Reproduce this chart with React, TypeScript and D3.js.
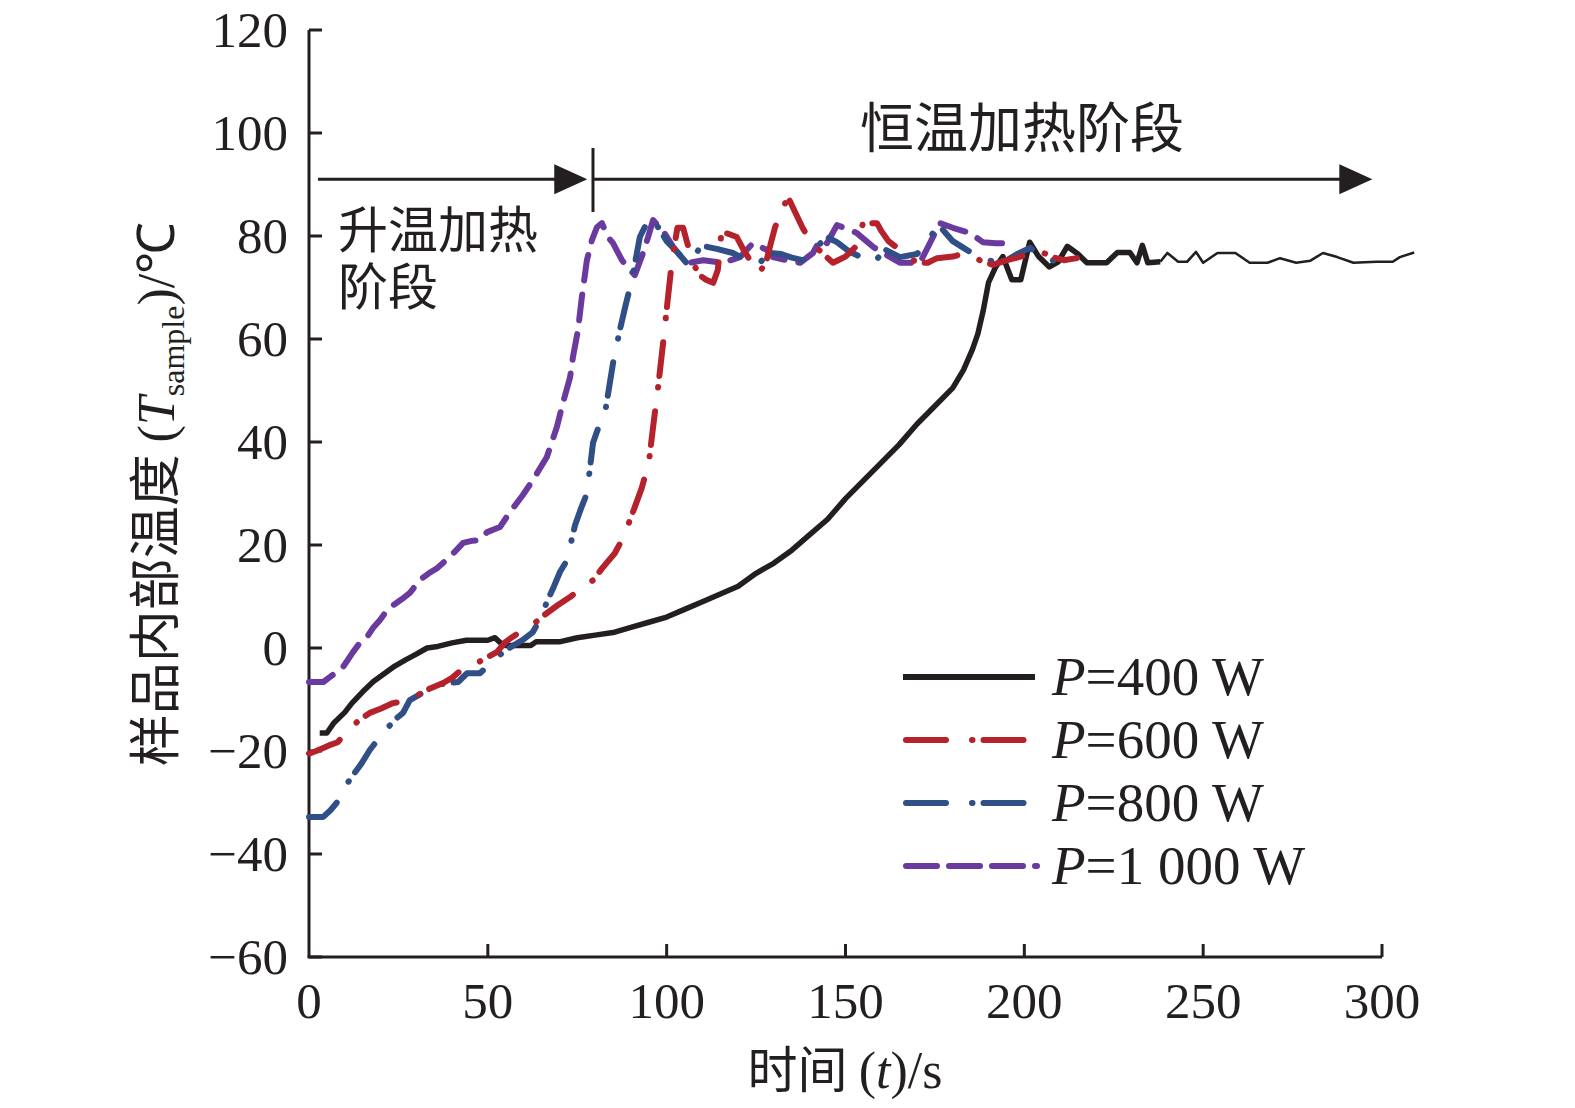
import React, { useEffect } from "react";
import * as d3 from "d3";

// ---- data ----
const t400 = [3, 5, 7, 10, 12, 15, 18, 21, 24, 27, 30, 33, 36, 40, 44, 50, 52, 53.5, 55, 58, 62, 63.5, 70, 75, 80, 85, 90, 95, 100, 105, 110, 115, 120, 125, 130, 135, 140, 145, 150, 155, 160, 165, 170, 175, 180, 183, 185.5, 187, 188.5, 190, 192, 194, 196.5, 199, 201.5, 204, 207, 209.5, 212, 215, 217.5, 220, 223, 226, 229.5, 231.5, 233, 234.5, 238];
const T400 = [-16.5, -16.5, -14.5, -12.5, -10.7, -8.5, -6.5, -5, -3.5, -2.3, -1.2, 0, 0.3, 1, 1.5, 1.5, 2, 1, 0.5, 0.5, 0.5, 1.2, 1.2, 2, 2.5, 3, 4, 5, 6, 7.5, 9, 10.5, 12, 14.5, 16.5, 19, 22, 25, 29, 32.5, 36, 39.5, 43.5, 47, 50.5, 54, 58, 61, 65.5, 71, 74, 76, 71.5, 71.5, 78.8, 76, 74, 75, 78, 76.5, 74.8, 74.8, 74.8, 76.8, 76.8, 74.8, 78.2, 74.8, 75];
const t400b = [238, 240, 243, 245.5, 248, 250, 254, 259, 263, 268, 271.5, 276, 280, 283.5, 287.5, 292, 298.5, 303, 305, 309];
const T400b = [75, 76.7, 75, 75, 76.9, 74.8, 76.7, 76.7, 74.8, 74.8, 75.7, 74.8, 75.2, 76.7, 75.9, 74.8, 75, 75, 75.9, 76.8];

const t600 = [0, 2, 4, 6, 8, 11, 14, 17, 20, 23.5, 26.5, 30, 34, 37.5, 40, 42, 45, 48, 52.5, 55, 57, 59, 62.5, 66, 69.5, 73, 76, 79.5, 82, 85.5, 87.5, 89, 91, 93, 95, 96.2, 97.5, 99, 100.2, 101.5, 103, 104.6, 106, 107.4, 109, 111, 113, 114.3, 115.3, 117, 119.6, 121.5, 124, 126, 128, 129.2, 130.3, 132, 133.9, 136, 138, 140, 143, 146.5, 150, 153, 154.9, 156.5, 158.8, 160, 162, 165.2, 168, 170.8, 173, 175.6, 180, 183.9, 187.5, 191.2, 195.1, 199, 203.5, 208, 211, 214.7];
const T600 = [-20.5, -20, -19.4, -18.8, -18.3, -16, -14, -12.6, -11.8, -10.7, -10.4, -9.3, -7.8, -6.8, -5.8, -4.6, -3.7, -2.5, -0.8, 1.2, 2.2, 3.1, 4.5, 6.5, 8.3, 9.9, 11.5, 13.2, 15.5, 18.4, 21, 23.5, 27.2, 31, 35.9, 42.9, 50, 59.2, 67, 75.3, 81.6, 81.6, 78, 74.8, 72.5, 71.5, 70.9, 73.4, 80.6, 80.5, 79.8, 77.3, 74.5, 72.8, 75.5, 78.8, 81.7, 84.5, 87.6, 84.5, 81.6, 79.2, 77, 74.8, 76, 78, 82.5, 82.5, 82.5, 81, 79, 77.3, 75.5, 74.8, 74.8, 75.7, 76, 76.7, 75.3, 74.4, 75.3, 76, 77.3, 75.9, 75.3, 75.7];

const t800 = [0, 2, 4, 6, 7.7, 10, 12.5, 14.7, 17, 19.8, 22, 24, 26.3, 28.2, 31, 33.8, 37, 41.7, 44.2, 47.8, 50, 52.6, 56, 59.8, 62.6, 64.5, 66.5, 68.5, 70.2, 72.1, 74.4, 76, 77.7, 79.4, 81, 82.8, 85, 86.9, 88.5, 90.3, 92.5, 95.3, 97.6, 100, 103.2, 106.5, 109.3, 111.3, 114, 118.5, 122.4, 126, 128.9, 132, 135, 138, 142, 144.8, 147.6, 151, 154.9, 157.7, 161.3, 165.2, 170, 174.5, 177.2, 180, 183.9, 187.5, 192.3, 195.1, 198, 201.6, 205.2, 210];
const T800 = [-32.8, -32.8, -32.8, -31.5, -30.1, -27, -24.5, -22.4, -19.8, -17.3, -15.5, -13.9, -12.6, -10.1, -9, -7.8, -7, -6.6, -4.9, -4.9, -3.5, -1.7, 0, 1.6, 3.1, 5.5, 8.9, 12, 14.8, 17, 23.9, 27, 30, 39.8, 43, 45.8, 55.3, 61.7, 66.5, 71.5, 79.8, 83.7, 81.7, 79, 76.7, 74, 77.9, 77.9, 77.5, 76.7, 75.3, 74.8, 76.7, 76.5, 75.8, 75.3, 77.9, 79.8, 78.8, 77, 75.7, 74.8, 77.3, 75.9, 76.5, 80.6, 81.2, 79, 77.3, 75.9, 74.8, 75.3, 76.5, 77.7, 75.9, 74.8];

const t1000 = [0, 2, 4, 5.9, 7.5, 9.5, 12.3, 14, 16.2, 18, 19.8, 21.5, 23.5, 26, 28.2, 31, 33.5, 35.8, 39.4, 43.1, 45.5, 47.8, 49.8, 53.4, 56.2, 59.8, 62.6, 66.5, 69.3, 71, 73, 73.8, 75.2, 76.3, 77.7, 79.1, 80.5, 81.9, 83.6, 85, 87.5, 89.7, 91.1, 93.4, 94.8, 96.2, 99, 101.8, 104, 106.5, 110.2, 115.7, 120.5, 124.1, 128, 129.7, 133.6, 137.3, 140.9, 142.8, 144.8, 147.6, 151.2, 153.1, 157.7, 160.5, 165.2, 170.8, 173.6, 176.4, 180, 184.8, 188.4, 192, 196];
const T1000 = [-6.6, -6.6, -6.6, -5.6, -4.8, -3.7, -0.8, 0.8, 2.1, 4, 5.4, 7, 8.3, 9.5, 10.7, 13.2, 14.5, 15.5, 17.7, 20.4, 20.8, 21, 22.5, 23.5, 26.4, 29.7, 32.6, 37.1, 42.9, 47.6, 52.6, 56.5, 61.7, 68.2, 75.3, 79.2, 81.7, 82.5, 79.8, 78.6, 75.3, 73.4, 72.4, 76.7, 79.8, 83.1, 81, 77.9, 76, 74.8, 75.3, 74.8, 75.9, 78.6, 77.3, 75.9, 75.3, 74.8, 76.7, 79.2, 78.6, 82.1, 81.2, 80.6, 77.9, 76.7, 74.8, 74.8, 78.6, 82.5, 81.6, 80.6, 78.8, 78.6, 78.6];

const xTicks = [50, 100, 150, 200, 250, 300];
const xTickLabels = ["0", "50", "100", "150", "200", "250", "300"];
const yTicks = [-60, -40, -20, 0, 20, 40, 60, 80, 100, 120];
const legendNames = ["400 W", "600 W", "800 W", "1 000 W"];

const colors = ["#231f20", "#b5222b", "#2f4f86", "#6a3a9e"];
const dashes = ["none", "34 24 0.5 11", "34 24 0.5 11", "26 14"];

const serif = "'Liberation Serif', 'Times New Roman', serif";
const cjk = "'Noto Sans CJK SC', sans-serif";

export default function App() {
  useEffect(() => {
    document.body.style.margin = "0";
  }, []);

  const W = 1575, H = 1108;
  const x = d3.scaleLinear().domain([0, 300]).range([309, 1382]);
  const y = d3.scaleLinear().domain([-60, 120]).range([957, 30]);
  const zip = (a: number[], b: number[]) => a.map((v, i) => [v, b[i]] as [number, number]);
  const line = d3.line<[number, number]>().x(d => x(d[0])).y(d => y(d[1]));

  const series = [
    { d: zip(t400, T400), c: colors[0], dash: dashes[0], w: 5.5 },
    { d: zip(t400b, T400b), c: colors[0], dash: dashes[0], w: 2.6 },
    { d: zip(t1000, T1000), c: colors[3], dash: dashes[3], w: 6 },
    { d: zip(t800, T800), c: colors[2], dash: dashes[2], w: 6 },
    { d: zip(t600, T600), c: colors[1], dash: dashes[1], w: 6 },
  ];

  const arrowY = y(91);
  const a1s = x(2.5), a1e = x(77.8), div = x(79.4), a2e = x(297.3);
  const head = (tip: number) => `${tip},${arrowY} ${tip - 33},${arrowY - 15} ${tip - 33},${arrowY + 15}`;

  const legY = [677, 740, 803, 866];

  return (
    <svg width={W} height={H} style={{ display: "block", background: "#fff" }}>
      {/* axes */}
      <line x1={x(0)} x2={x(0)} y1={y(120)} y2={y(-60)} stroke="#231f20" strokeWidth={3} />
      <line x1={x(0) - 1.5} x2={x(300)} y1={y(-60)} y2={y(-60)} stroke="#231f20" strokeWidth={3} />
      {yTicks.map(v => (
        <g key={"y" + v}>
          <line x1={x(0)} x2={x(0) + 13} y1={y(v)} y2={y(v)} stroke="#231f20" strokeWidth={3} />
          <text x={288} y={y(v) + 17} textAnchor="end" fontFamily={serif} fontSize={51} fill="#231f20">
            {v < 0 ? "\u2212" + Math.abs(v) : String(v)}
          </text>
        </g>
      ))}
      {xTicks.map(v => (
        <line key={"x" + v} x1={x(v)} x2={x(v)} y1={y(-60)} y2={y(-60) - 13} stroke="#231f20" strokeWidth={3} />
      ))}
      {[0, ...xTicks].map((v, i) => (
        <text key={"xl" + v} x={x(v)} y={1018} textAnchor="middle" fontFamily={serif} fontSize={51} fill="#231f20">
          {xTickLabels[i]}
        </text>
      ))}

      {/* axis titles */}
      <text x={845} y={1088} textAnchor="middle" fontSize={52} fill="#231f20">
        <tspan fontFamily={cjk} fontSize={50}>时间 </tspan>
        <tspan fontFamily={serif}>(</tspan>
        <tspan fontFamily={serif} fontStyle="italic">t</tspan>
        <tspan fontFamily={serif}>)/s</tspan>
      </text>
      <text transform="translate(174,494) rotate(-90)" textAnchor="middle" fontSize={52} fill="#231f20">
        <tspan fontFamily={cjk} fontSize={52}>样品内部温度 </tspan>
        <tspan fontFamily={serif}>(</tspan>
        <tspan fontFamily={serif} fontStyle="italic">T</tspan>
        <tspan fontFamily={serif} fontSize={32} dy={10}>sample</tspan>
        <tspan fontFamily={serif} dy={-10}>)/℃</tspan>
      </text>

      {/* series */}
      {series.map((s, i) => (
        <path key={"s" + i} d={line(s.d) || ""} fill="none" stroke={s.c} strokeWidth={s.w}
          strokeDasharray={s.dash} strokeLinecap={s.dash === "none" ? "butt" : "round"} strokeLinejoin="round" />
      ))}

      {/* phase arrows */}
      <line x1={a1s} x2={a1e - 30} y1={arrowY} y2={arrowY} stroke="#231f20" strokeWidth={3} />
      <polygon points={head(a1e)} fill="#231f20" />
      <line x1={div} x2={div} y1={148} y2={212} stroke="#231f20" strokeWidth={3} />
      <line x1={div} x2={a2e - 30} y1={arrowY} y2={arrowY} stroke="#231f20" strokeWidth={3} />
      <polygon points={head(a2e)} fill="#231f20" />
      <text x={860} y={148} fontFamily={cjk} fontSize={54} fill="#231f20">恒温加热阶段</text>
      <text x={338} y={248} fontFamily={cjk} fontSize={50} fill="#231f20">升温加热</text>
      <text x={338} y={305} fontFamily={cjk} fontSize={50} fill="#231f20">阶段</text>

      {/* legend */}
      {legendNames.map((n, i) => {
        const c = colors[i];
        const dash = [dashes[0], "40 26 0.5 11", "40 26 0.5 11", "31 12"][i];
        return (
          <g key={"lg" + i}>
            <line x1={i === 0 ? 903 : 906} x2={i === 3 ? 1037 : i === 0 ? 1035 : 1032} y1={legY[i]} y2={legY[i]}
              stroke={c} strokeWidth={6} strokeDasharray={dash}
              strokeLinecap={i === 0 ? "butt" : "round"} />
            <text x={1052} y={legY[i] + 18} fontFamily={serif} fontSize={55} fill="#231f20">
              <tspan fontStyle="italic">P</tspan>
              <tspan>={n}</tspan>
            </text>
          </g>
        );
      })}
    </svg>
  );
}
